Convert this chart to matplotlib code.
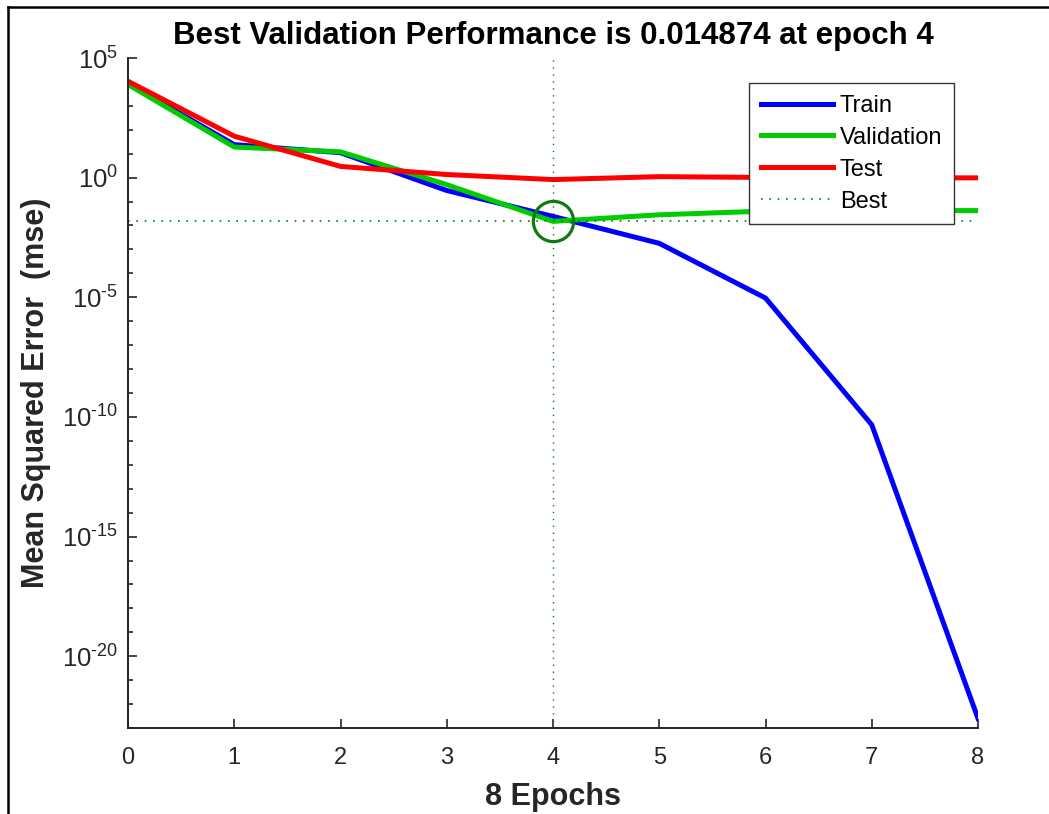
import matplotlib.pyplot as plt
from matplotlib.lines import Line2D

plt.rcParams['font.family'] = ['Liberation Sans', 'DejaVu Sans']
plt.rcParams['mathtext.fontset'] = 'custom'
plt.rcParams['mathtext.rm'] = 'Liberation Sans'
plt.rcParams['mathtext.it'] = 'Liberation Sans:italic'
plt.rcParams['mathtext.bf'] = 'Liberation Sans:bold'
plt.rcParams['axes.unicode_minus'] = False

# data (mse per epoch)
epochs = [0, 1, 2, 3, 4, 5, 6, 7, 8]
train_mse = [8.5e3, 24, 11, 0.29, 0.024, 1.8e-3, 9.3e-6, 4.7e-11, 2.5e-23]
val_mse = [7.8e3, 19, 12, 0.51, 0.014874, 0.028, 0.040, 0.042, 0.042]
test_mse = [1.07e4, 54, 2.95, 1.35, 0.83, 1.1, 1.02, 0.98, 0.98]
best_epoch = 4
best_perf = 0.014874

major_exp = [5, 0, -5, -10, -15, -20]
minor_exp = list(range(-23, 6))

fig = plt.figure(figsize=(10.49, 8.14), dpi=100)
ax = fig.add_axes([128 / 1049, 1 - 728 / 814, 850 / 1049, 670 / 814])

ax.plot(epochs, train_mse, color='#0000ff', linewidth=3.6, label='Train')
ax.plot(epochs, val_mse, color='#00cc00', linewidth=3.6, label='Validation')
ax.plot(epochs, test_mse, color='#ff0000', linewidth=3.6, label='Test')

# best validation markers
ax.axhline(best_perf, color='#007f00', linestyle=(0, (1, 4)), linewidth=1.2, label='Best')
ax.axvline(best_epoch, color='#007f00', linestyle=(0, (1, 4)), linewidth=1.0)
ax.plot([best_epoch], [best_perf], 'o', markersize=29, markerfacecolor='none',
        markeredgecolor='#107a10', markeredgewidth=2.3)

ax.set_yscale('log')
ax.set_xlim(0, 8)
ax.set_ylim(1e-23, 1e5)
ax.set_xticks(epochs)
ax.set_yticks([10.0 ** e for e in major_exp])
ax.set_yticks([10.0 ** e for e in minor_exp], minor=True)
# short hyphen in the exponent, like the original
ax.set_yticklabels(['$10^{%d}$' % e if e >= 0 else '$10^{\\text{-%d}}$' % -e for e in major_exp])
ax.yaxis.set_minor_formatter(plt.NullFormatter())

for s in ['top', 'right']:
    ax.spines[s].set_visible(False)
for s in ['left', 'bottom']:
    ax.spines[s].set_color('#262626')
    ax.spines[s].set_linewidth(1.4)

ax.tick_params(axis='both', which='both', direction='in', colors='#262626', width=1.2,
               labelcolor='#262626')
ax.tick_params(axis='both', which='major', length=6.5)
ax.tick_params(axis='y', which='minor', length=3.6)
ax.tick_params(axis='x', pad=14, labelsize=17)
ax.tick_params(axis='y', pad=7, labelsize=18.5)

ax.set_title('Best Validation Performance is 0.014874 at epoch 4', fontsize=22.5,
             fontweight='bold', pad=10)
ax.set_xlabel('8 Epochs', fontsize=22, fontweight='bold', color='#262626', labelpad=9)
ax.set_ylabel('Mean Squared Error  (mse)', fontsize=22, fontweight='bold', color='#262626',
              labelpad=8)

leg = ax.legend(loc='upper left', bbox_to_anchor=(749 / 1049, 1 - 83 / 814),
                bbox_transform=fig.transFigure, fontsize=17, handlelength=3.05,
                handletextpad=0.3, labelspacing=0.42, borderpad=0.5,
                fancybox=False, framealpha=1, borderaxespad=0)
leg.get_frame().set_edgecolor('#333333')
leg.get_frame().set_linewidth(1.0)

# outer frame of the figure window (only top and left visible)
fig.add_artist(Line2D([8 / 1049, 1], [1 - 7 / 814, 1 - 7 / 814], color='black', linewidth=1.8,
                      transform=fig.transFigure))
fig.add_artist(Line2D([8 / 1049, 8 / 1049], [0, 1 - 7 / 814], color='black', linewidth=1.8,
                      transform=fig.transFigure))

plt.savefig('out.png', dpi=100)
